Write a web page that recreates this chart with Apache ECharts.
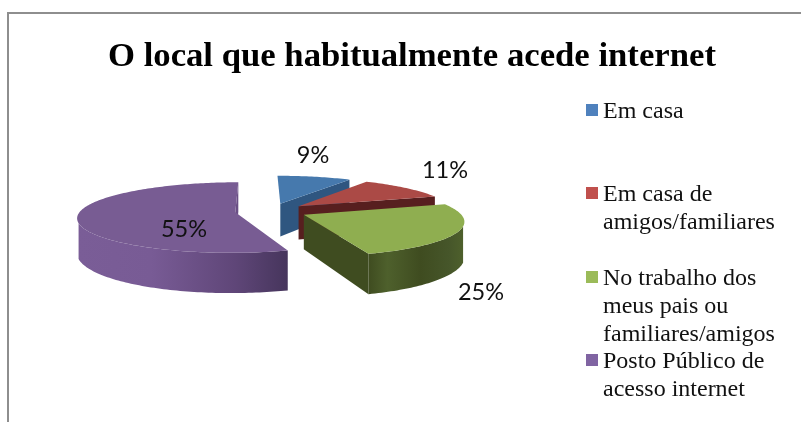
<!DOCTYPE html>
<html>
<head>
<meta charset="utf-8">
<style>html,body{margin:0;padding:0;background:#fff}#c{width:801px;height:422px}</style>
<script src="https://cdn.jsdelivr.net/npm/echarts@6/dist/echarts.min.js"></script>
</head>
<body>
<div id="c"></div>
<script>
const titleText = 'O local que habitualmente acede internet';
const categories = ['Em casa', 'Em casa de\namigos/familiares', 'No trabalho dos\nmeus pais ou\nfamiliares/amigos', 'Posto Público de\nacesso internet'];
const values = [9, 11, 25, 55];

const topColors = ['#4679ad', '#ab4a46', '#8fae50', '#785c93'];
const faceColors = ['#2f5680', '#571f1f', '#3f4c20', '#6a4f85'];
const legendColors = ['#4f81bd', '#c0504d', '#9bbb59', '#8064a2'];
const wallStops = [
  [[0, '#2f5680'], [1, '#2f5680']],
  [[0, '#571f1f'], [1, '#571f1f']],
  [[0, '#3f4c20'], [0.2, '#4e602c'], [0.55, '#3f4c20'], [0.85, '#46562a'], [1, '#4e602c']],
  [[0, '#7a5d97'], [0.35, '#785b95'], [0.75, '#5f4678'], [1, '#46355c']]
];
const labelPos = [[313, 155], [445, 170], [481, 292], [184, 229]];
const legendY = [110, 193, 277, 360];

const geo = {cx: 271, cy: 211, xv: 258, R: 155, explode: 36, tilt: 0.22, k: 0.15, depth: 34, wallCos: -0.3};

function project(X, Z, h) {
  const s = 1 / (1 + geo.k * Z / geo.R);
  return [geo.xv + (geo.cx + X - geo.xv) * s, geo.cy - Z * geo.tilt * s + h * geo.depth * s];
}
function sliceGeom(i) {
  const total = values.reduce((a, b) => a + b, 0);
  let before = 0;
  for (let j = 0; j < i; j++) before += values[j];
  const a0 = before / total * 2 * Math.PI;
  const a1 = (before + values[i]) / total * 2 * Math.PI;
  const mid = (a0 + a1) / 2;
  return {a0, a1, ox: Math.sin(mid) * geo.explode, oz: Math.cos(mid) * geo.explode};
}
function renderSlice(params, api) {
  const i = params.dataIndex;
  const g = sliceGeom(i);
  const n = Math.max(8, Math.round((g.a1 - g.a0) / 0.02));
  const pt = (a, h) => project(g.ox + Math.sin(a) * geo.R, g.oz + Math.cos(a) * geo.R, h);
  const apex = h => project(g.ox, g.oz, h);
  const rim = [], wallTop = [], wallBottom = [];
  for (let t = 0; t <= n; t++) {
    const a = g.a0 + (g.a1 - g.a0) * t / n;
    rim.push(pt(a, 0));
    if (Math.cos(a) < geo.wallCos) { wallTop.push(pt(a, 0)); wallBottom.unshift(pt(a, 1)); }
  }
  const children = [];
  children.push({type: 'polygon', shape: {points: [apex(0), pt(g.a1, 0), pt(g.a1, 1), apex(1)]}, style: {fill: faceColors[i]}});
  if (wallTop.length > 1) {
    children.push({type: 'polygon', shape: {points: wallTop.concat(wallBottom)},
      style: {fill: new echarts.graphic.LinearGradient(0, 0, 1, 0, wallStops[i].map(s => ({offset: s[0], color: s[1]})))}});
  }
  children.push({type: 'polygon', shape: {points: [apex(0)].concat(rim)}, style: {fill: topColors[i]}});
  children.push({type: 'text', style: {text: api.value(0) + '%', x: labelPos[i][0], y: labelPos[i][1],
    align: 'center', verticalAlign: 'middle', fontFamily: 'Lato', fontSize: 23.5, fill: '#111'}});
  return {type: 'group', children};
}

const legendGraphics = [];
categories.forEach((name, i) => {
  legendGraphics.push({type: 'rect', shape: {x: 586, y: legendY[i] - 6, width: 12, height: 12}, style: {fill: legendColors[i]}});
  legendGraphics.push({type: 'text', style: {text: name, x: 603, y: legendY[i] - 12, fontFamily: 'Liberation Serif', fontSize: 24, lineHeight: 27.7, fill: '#111'}});
});
legendGraphics.push({type: 'polyline', shape: {points: [[8, 422], [8, 13], [801, 13]]}, style: {stroke: '#8e8e8e', lineWidth: 2, fill: 'none'}});

const chart = echarts.init(document.getElementById('c'), null, {renderer: 'canvas'});
chart.setOption({
  animation: false,
  backgroundColor: '#fff',
  title: {text: titleText, left: 103, top: 35, textStyle: {fontFamily: 'Liberation Serif', fontWeight: 'bold', fontSize: 34.7, color: '#000'}},
  graphic: legendGraphics,
  series: [{type: 'custom', coordinateSystem: 'none', silent: true, data: values.map(v => [v]), renderItem: renderSlice}]
});
</script>
</body>
</html>
